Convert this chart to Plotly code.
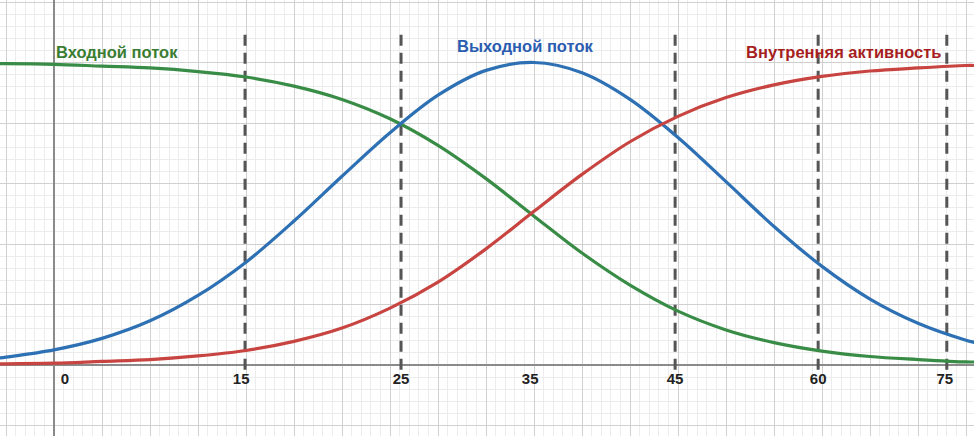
import plotly.graph_objects as go

# x in grid units (one major grid cell = 1)
x_pts = [-1.2, -1, 0, 1, 2, 3, 4, 5, 6, 7, 8, 9, 10, 11, 12, 13, 14, 15, 16, 17, 18, 19, 19.2]
inflow = [4.98, 4.98, 4.97, 4.94, 4.91, 4.85, 4.76, 4.61, 4.39, 4.07, 3.63, 3.08, 2.46, 1.85,
          1.32, 0.89, 0.58, 0.37, 0.23, 0.14, 0.09, 0.05, 0.05]
outflow = [0.11, 0.13, 0.25, 0.44, 0.73, 1.15, 1.70, 2.38, 3.12, 3.84, 4.46, 4.87, 5.00, 4.83,
           4.39, 3.76, 3.03, 2.29, 1.63, 1.09, 0.69, 0.41, 0.37]
internal = [0.02, 0.02, 0.03, 0.06, 0.09, 0.15, 0.24, 0.39, 0.61, 0.94, 1.37, 1.92, 2.54, 3.15,
            3.69, 4.11, 4.42, 4.63, 4.77, 4.86, 4.91, 4.95, 4.95]

tick_labels = ["0", "15", "25", "35", "45", "60", "75"]
tick_pos = [0.23, 3.9, 7.23, 9.92, 12.94, 15.92, 18.56]
dashed_pos = [3.98, 7.23, 12.94, 15.92, 18.6]

series_names = ["Входной поток", "Выходной поток", "Внутренняя активность"]
line_colors = ["#388c46", "#2d70b3", "#c74440"]
text_colors = ["#3a7d32", "#2a5cb0", "#a61e1e"]

fig = go.Figure()

# dashed vertical markers
dx, dy = [], []
for p in dashed_pos:
    dx += [p, p, None]
    dy += [-0.08, 5.5, None]
fig.add_trace(go.Scatter(x=dx, y=dy, mode="lines",
                         line=dict(color="#555555", width=3, dash="11px,7px"),
                         hoverinfo="skip", showlegend=False))

for vals, col in zip([inflow, outflow, internal], line_colors):
    fig.add_trace(go.Scatter(x=x_pts, y=vals, mode="lines",
                             line=dict(color=col, width=3.2, shape="spline"),
                             showlegend=False))

# x tick labels near the axis line
fig.add_trace(go.Scatter(x=tick_pos, y=[-0.25] * len(tick_pos), mode="text",
                         text=["<b>" + t + "</b>" for t in tick_labels],
                         textfont=dict(family="Liberation Sans, Arial", size=15, color="#222222"),
                         hoverinfo="skip", showlegend=False))

# curve labels
fig.add_annotation(x=0.0, y=5.17, text="<b>" + series_names[0] + "</b>", showarrow=False,
                   xanchor="left", yanchor="middle",
                   font=dict(family="Liberation Sans, Arial", size=16.5, color=text_colors[0]))
fig.add_annotation(x=9.81, y=5.27, text="<b>" + series_names[1] + "</b>", showarrow=False,
                   xanchor="center", yanchor="middle",
                   font=dict(family="Liberation Sans, Arial", size=16.5, color=text_colors[1]))
fig.add_annotation(x=18.52, y=5.17, text="<b>" + series_names[2] + "</b>", showarrow=False,
                   xanchor="right", yanchor="middle",
                   font=dict(family="Liberation Sans, Arial", size=16.5, color=text_colors[2]))

fig.update_layout(
    width=974, height=436,
    margin=dict(l=0, r=0, t=0, b=0),
    plot_bgcolor="white", paper_bgcolor="white",
    showlegend=False,
    xaxis=dict(range=[-1.125, 19.1667], tick0=0, dtick=1, showticklabels=False, ticks="",
               showgrid=True, gridcolor="#d0d0d0", gridwidth=1,
               zeroline=True, zerolinecolor="#8a8a8a", zerolinewidth=1.5,
               minor=dict(dtick=0.2, showgrid=True, gridcolor="#ececec", gridwidth=1),
               fixedrange=True),
    yaxis=dict(range=[-1.1736, 6.033], tick0=0, dtick=1, showticklabels=False, ticks="",
               showgrid=True, gridcolor="#d0d0d0", gridwidth=1,
               zeroline=True, zerolinecolor="#8a8a8a", zerolinewidth=1.5,
               minor=dict(dtick=0.2, showgrid=True, gridcolor="#ececec", gridwidth=1),
               fixedrange=True),
)

fig.write_html("out.html", config={"displayModeBar": False},
               post_script="document.body.style.margin='0';document.body.style.overflow='hidden';")
